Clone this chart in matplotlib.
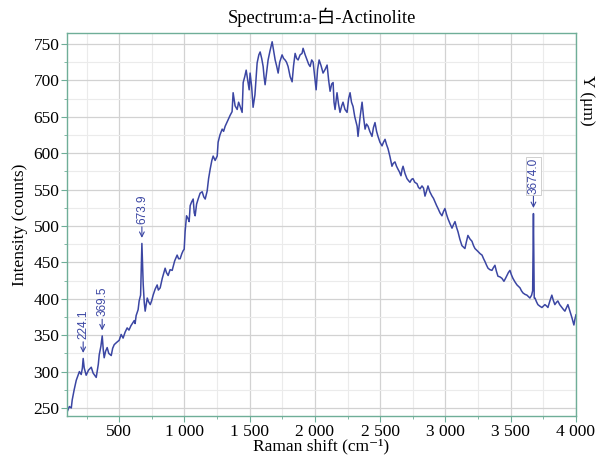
import numpy as np
import matplotlib
matplotlib.use('Agg')
import matplotlib.pyplot as plt
from matplotlib.ticker import MultipleLocator, FuncFormatter

plt.rcParams['font.family'] = ['Liberation Serif', 'Noto Sans CJK SC', 'DejaVu Serif']

# Raman spectrum (shift in cm-1, intensity in counts)
shift = [102, 118, 133, 140, 155, 171, 179, 195, 209, 218, 224, 232, 247, 265, 286, 300,
         324, 340, 347, 360, 370, 378, 385, 396, 408, 420, 439, 450, 462, 480, 500, 515,
         530, 545, 561, 575, 590, 604, 615, 622, 630, 645, 653, 664, 674, 684, 692, 699,
         707, 715, 725, 738, 750, 760, 775, 791, 800, 814, 830, 852, 862, 875, 890, 906,
         925, 944, 955, 967, 980, 990, 998, 1005, 1016, 1028, 1036, 1044, 1055, 1067, 1075, 1082,
         1093, 1105, 1120, 1136, 1148, 1159, 1174, 1185, 1197, 1210, 1220, 1235, 1251, 1258, 1272, 1289,
         1300, 1312, 1325, 1335, 1350, 1365, 1373, 1388, 1404, 1415, 1427, 1442, 1450, 1462, 1473, 1485,
         1496, 1503, 1515, 1526, 1540, 1557, 1570, 1580, 1592, 1603, 1610, 1618, 1630, 1641, 1655, 1672,
         1684, 1695, 1706, 1718, 1730, 1748, 1760, 1771, 1782, 1794, 1810, 1825, 1836, 1848, 1860, 1871,
         1886, 1901, 1909, 1925, 1940, 1952, 1963, 1975, 1986, 1998, 2009, 2020, 2032, 2047, 2062, 2078,
         2093, 2105, 2116, 2128, 2139, 2146, 2154, 2169, 2180, 2192, 2205, 2215, 2230, 2246, 2258, 2269,
         2280, 2292, 2305, 2323, 2330, 2346, 2361, 2372, 2384, 2395, 2407, 2420, 2437, 2448, 2460, 2472,
         2483, 2498, 2514, 2525, 2537, 2548, 2560, 2575, 2590, 2600, 2613, 2625, 2636, 2648, 2659, 2668,
         2675, 2690, 2705, 2718, 2728, 2740, 2751, 2765, 2782, 2793, 2805, 2820, 2832, 2843, 2855, 2866,
         2880, 2897, 2908, 2920, 2932, 2943, 2958, 2973, 2985, 2996, 3008, 3019, 3035, 3050, 3062, 3073,
         3085, 3096, 3110, 3126, 3138, 3149, 3160, 3172, 3188, 3203, 3215, 3226, 3238, 3249, 3265, 3280,
         3292, 3303, 3315, 3326, 3340, 3356, 3368, 3379, 3390, 3402, 3418, 3433, 3448, 3460, 3471, 3482,
         3494, 3505, 3517, 3533, 3548, 3560, 3571, 3582, 3594, 3610, 3624, 3636, 3647, 3660, 3668, 3674,
         3680, 3686, 3697, 3708, 3722, 3739, 3750, 3762, 3775, 3785, 3800, 3815, 3826, 3838, 3850, 3861,
         3875, 3892, 3905, 3915, 3928, 3938, 3955, 3969, 3984, 3992, 4000]

intensity = [245, 252, 250, 261, 275, 288, 292, 300, 296, 305, 318, 305, 295, 302, 306, 298,
             292, 310, 323, 335, 349, 330, 319, 328, 333, 325, 322, 332, 337, 340, 343, 351,
             346, 354, 360, 357, 363, 367, 370, 366, 377, 385, 397, 405, 476, 420, 395, 383,
             392, 401, 396, 392, 398, 405, 413, 419, 412, 415, 428, 442, 436, 432, 440, 439,
             452, 460, 455, 455, 462, 466, 468, 492, 514, 510, 506, 528, 533, 537, 518, 514,
             530, 537, 545, 547, 540, 537, 548, 565, 578, 590, 596, 590, 596, 615, 625, 633,
             630, 637, 642, 646, 652, 657, 683, 665, 660, 670, 664, 656, 697, 705, 714, 700,
             687, 710, 691, 663, 680, 724, 735, 739, 730, 719, 705, 694, 712, 728, 740, 753,
             740, 728, 720, 710, 725, 735, 730, 728, 725, 719, 705, 698, 720, 737, 730, 728,
             735, 737, 744, 735, 728, 722, 719, 728, 725, 705, 687, 715, 728, 720, 710, 715,
             721, 700, 685, 695, 697, 670, 660, 683, 668, 656, 665, 670, 660, 656, 675, 683,
             670, 664, 650, 637, 623, 650, 670, 650, 633, 640, 637, 630, 623, 635, 642, 630,
             623, 615, 610, 615, 619, 612, 606, 595, 582, 586, 588, 582, 578, 574, 569, 578,
             582, 572, 565, 562, 560, 564, 565, 560, 558, 553, 551, 555, 552, 541, 548, 555,
             547, 541, 538, 533, 528, 524, 518, 514, 520, 524, 516, 510, 503, 497, 502, 506,
             498, 492, 482, 473, 471, 469, 478, 487, 482, 479, 473, 469, 467, 465, 462, 460,
             455, 451, 446, 442, 440, 439, 443, 446, 438, 431, 430, 428, 424, 428, 432, 436,
             439, 433, 428, 423, 419, 417, 415, 411, 408, 406, 405, 403, 401, 405, 411, 517,
             401, 401, 396, 392, 390, 388, 390, 392, 390, 388, 397, 405, 398, 392, 395, 397,
             392, 388, 385, 383, 388, 392, 382, 374, 364, 372, 378]

# labelled peaks
peak_shift = [224.1, 369.5, 673.9, 3674.0]
peak_height = [318, 349, 476, 517]
peak_boxed = [False, False, False, True]

line_color = '#3b46a3'
spine_color = '#6fae98'


def thousands(v, pos):
    return f'{int(v):,}'.replace(',', ' ')


fig = plt.figure(figsize=(5.97, 4.58), dpi=100)
ax = fig.add_axes([0.1122, 0.0917, 0.8526, 0.8362])

ax.plot(shift, intensity, color=line_color, lw=1.1)

ax.set_xlim(100, 4000)
ax.set_ylim(239, 765)
ax.xaxis.set_major_locator(MultipleLocator(500))
ax.xaxis.set_minor_locator(MultipleLocator(250))
ax.yaxis.set_major_locator(MultipleLocator(50))
ax.yaxis.set_minor_locator(MultipleLocator(25))
ax.xaxis.set_major_formatter(FuncFormatter(thousands))

ax.grid(which='major', color='#d2d2d2', lw=0.9)
ax.grid(which='minor', color='#ebebeb', lw=0.8)
ax.set_axisbelow(True)

for s in ax.spines.values():
    s.set_color(spine_color)
    s.set_linewidth(1.0)

ax.tick_params(which='major', direction='out', length=4, color=spine_color,
               labelsize=12.5, pad=1.5)
ax.tick_params(which='minor', direction='out', length=2.5, color=spine_color)

ax.set_title('Spectrum:a-白-Actinolite', fontsize=13.2, pad=7)
ax.set_xlabel('Raman shift (cm⁻¹)', fontsize=12.5, labelpad=-1)
ax.set_ylabel('Intensity (counts)', fontsize=12.5, labelpad=4)
fig.text(0.983, 0.78, 'Y (μm)', rotation=270, fontsize=12.5, ha='center', va='center')

for px, py, boxed in zip(peak_shift, peak_height, peak_boxed):
    bbox = dict(boxstyle='square,pad=0.1', fc='white', ec='#c8c8c8', lw=0.6) if boxed else None
    ax.annotate(f'{px:.1f}', xy=(px, py), xytext=(0, 14), textcoords='offset points',
                rotation=90, ha='center', va='bottom', fontsize=8.5,
                family='Liberation Sans', color=line_color, bbox=bbox,
                arrowprops=dict(arrowstyle='->', color=line_color, lw=0.8,
                                shrinkA=0, shrinkB=4))

fig.savefig('out.png', dpi=100)
